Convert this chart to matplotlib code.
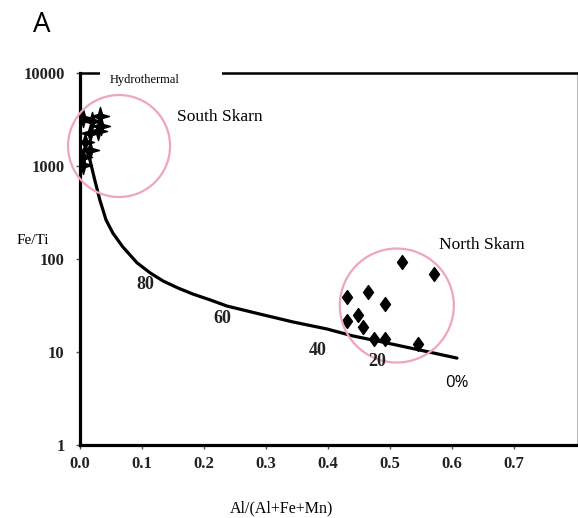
import numpy as np
import matplotlib
matplotlib.use("Agg")
import matplotlib.pyplot as plt
from matplotlib.path import Path
from matplotlib.patches import Rectangle
from matplotlib.ticker import FixedLocator, NullLocator

# south skarn samples (hydrothermal end)
south_x = [0.005, 0.019, 0.032, 0.034, 0.029, 0.016, 0.008, 0.016, 0.005, 0.005]
south_y = [3280, 3050, 3450, 2690, 2380, 2260, 1810, 1490, 1250, 1025]

# north skarn samples
north_x = [0.519, 0.571, 0.431, 0.465, 0.492, 0.448, 0.431, 0.456, 0.474, 0.492, 0.545]
north_y = [93, 69, 39, 44, 33, 25, 21.5, 18.6, 13.8, 13.8, 12.2]

# mixing curve, hydrothermal -> detrital
mix_x = [0.008, 0.016, 0.0226, 0.032, 0.042, 0.053, 0.069, 0.092, 0.113, 0.134,
         0.158, 0.182, 0.210, 0.237, 0.290, 0.344, 0.398, 0.440, 0.495, 0.548, 0.608]
mix_y = [1682, 1161, 762, 431, 263, 190, 135, 91, 71, 58,
         48.8, 42, 36.3, 31.2, 25.6, 21, 17.7, 14.9, 12.5, 10.5, 8.6]

# percent labels along the curve
pct_labels = ["80", "60", "40", "20"]
pct_x = [0.105, 0.229, 0.384, 0.479]
pct_y = [53.8, 23.2, 10.5, 8.0]

x_ticks = [0.0, 0.1, 0.2, 0.3, 0.4, 0.5, 0.6, 0.7]
y_ticks = [1, 10, 100, 1000, 10000]

serif = "Liberation Serif"
pink = "#f0a3c4"

star = Path([(0, 1), (0.22, 0.22), (1, 0), (0.22, -0.22), (0, -1),
             (-0.22, -0.22), (-1, 0), (-0.22, 0.22), (0, 1)], closed=True)
diamond = Path([(0, 1), (0.72, 0), (0, -1), (-0.72, 0), (0, 1)], closed=True)

fig = plt.figure(figsize=(5.78, 5.18), dpi=100)
ax = fig.add_axes([80 / 578, 1 - 445 / 518, 497 / 578, 372 / 518])
ax.set_yscale("log")
ax.set_xlim(0, 0.8016)
ax.set_ylim(1, 10000)

ax.plot(mix_x, mix_y, color="black", lw=2.3, solid_capstyle="round",
        solid_joinstyle="round", zorder=3)
ax.plot(south_x, south_y, ls="none", marker=star, ms=13, color="black",
        mec="black", mew=1.0, zorder=4)
ax.plot(north_x, north_y, ls="none", marker=diamond, ms=10, color="black", zorder=4)

# pink outlines around both sample groups
ax.scatter([0.063], [1640], s=102 ** 2 * 0.5184, facecolors="none",
           edgecolors=pink, linewidths=1.6, zorder=5, clip_on=False)
ax.scatter([0.511], [31.6], s=114 ** 2 * 0.5184, facecolors="none",
           edgecolors=pink, linewidths=1.6, zorder=5, clip_on=False)

for lab, x, y in zip(pct_labels, pct_x, pct_y):
    ax.text(x, y, lab, ha="center", va="center", fontsize=13,
            fontweight="bold", family=serif, color="#222222", zorder=6)
ax.text(0.608, 4.6, "0%", ha="center", va="center", fontsize=12,
        family="Open Sans", color="black")

# white label box breaking the top frame
ax.add_patch(Rectangle((0.04, 0.955), 0.246, 0.06, transform=ax.transAxes,
                       facecolor="white", edgecolor="none", clip_on=False, zorder=6))
ax.text(0.105, 8410, "Hydrothermal", ha="center", va="center", fontsize=9,
        family=serif, zorder=7)
ax.text(0.226, 3365, "South Skarn", ha="center", va="center", fontsize=12.5,
        family=serif)
ax.text(0.648, 141, "North Skarn", ha="center", va="center", fontsize=12.5,
        family=serif)

ax.xaxis.set_major_locator(FixedLocator(x_ticks))
ax.set_xticklabels([f"{v:.1f}" for v in x_ticks])
ax.yaxis.set_major_locator(FixedLocator(y_ticks))
ax.yaxis.set_minor_locator(NullLocator())
ax.set_yticklabels([str(v) for v in y_ticks])
ax.tick_params(axis="both", direction="out", length=3, width=1, color="#555555")
ax.tick_params(axis="y", pad=8)
ax.tick_params(axis="x", pad=5)
for lab in ax.get_xticklabels() + ax.get_yticklabels():
    lab.set_fontfamily(serif)
    lab.set_fontweight("bold")
    lab.set_fontsize(12)
    lab.set_color("#222222")

ax.spines["left"].set_linewidth(2.3)
ax.spines["bottom"].set_linewidth(2.3)
ax.spines["top"].set_linewidth(1.8)
ax.spines["right"].set_linewidth(0.8)
ax.spines["right"].set_color("#bbbbbb")

fig.text(33 / 578, 1 - 240 / 518, "Fe/Ti", ha="center", va="center",
         fontsize=11, family=serif)
fig.text(282 / 578, 1 - 508 / 518, "Al/(Al+Fe+Mn)", ha="center", va="center",
         fontsize=11.5, family=serif)
fig.text(42 / 578, 1 - 25 / 518, "A", ha="center", va="center",
         fontsize=20, family="Open Sans")

fig.savefig("out.png", dpi=100)
